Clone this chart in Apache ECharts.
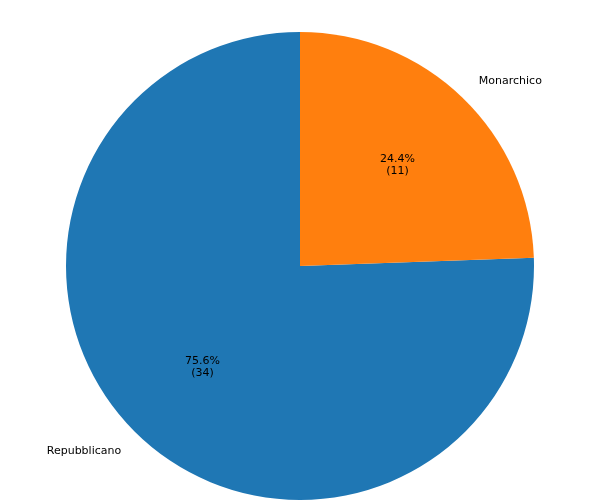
<!DOCTYPE html>
<html>
<head>
<meta charset="utf-8">
<script src="https://cdn.jsdelivr.net/npm/echarts@6/dist/echarts.min.js"></script>
<style>html,body{margin:0;padding:0;background:#fff}#c{width:600px;height:500px}</style>
</head>
<body>
<div id="c"></div>
<script>
var categories = ['Repubblicano', 'Monarchico'];
var counts = [34, 11];
var colors = ['#1f77b4', '#ff7f0e'];

var total = counts.reduce(function (a, b) { return a + b; }, 0);
var R = 234;
var center = [300, 266];
var font = 'DejaVu Sans';

var mainData = categories.map(function (c, i) {
  return { name: c, value: counts[i], itemStyle: { color: colors[i] } };
});
var pctData = categories.map(function (c, i) {
  return { name: c, value: counts[i] };
});

var chart = echarts.init(document.getElementById('c'), null, { renderer: 'canvas' });
chart.setOption({
  animation: false,
  backgroundColor: '#ffffff',
  series: [
    {
      type: 'pie',
      center: center,
      radius: [0, R],
      startAngle: 90,
      clockwise: false,
      avoidLabelOverlap: false,
      silent: true,
      data: mainData,
      itemStyle: { borderWidth: 0 },
      label: {
        show: true,
        position: 'outside',
        formatter: '{b}',
        color: '#000',
        fontFamily: font,
        fontSize: 11,
        distanceToLabelLine: 0,
        alignTo: 'none'
      },
      labelLine: { show: false, length: R * 0.1, length2: 0 }
    },
    {
      type: 'pie',
      center: center,
      radius: [0, R * 1.175],
      startAngle: 90,
      clockwise: false,
      silent: true,
      data: pctData,
      itemStyle: { color: 'rgba(0,0,0,0)', borderWidth: 0 },
      label: {
        show: true,
        position: 'inside',
        formatter: function (p) {
          return (p.value / total * 100).toFixed(1) + '%\n(' + p.value + ')';
        },
        color: '#000',
        fontFamily: font,
        fontSize: 11,
        lineHeight: 12,
        align: 'center'
      },
      labelLine: { show: false }
    }
  ]
});
</script>
</body>
</html>
